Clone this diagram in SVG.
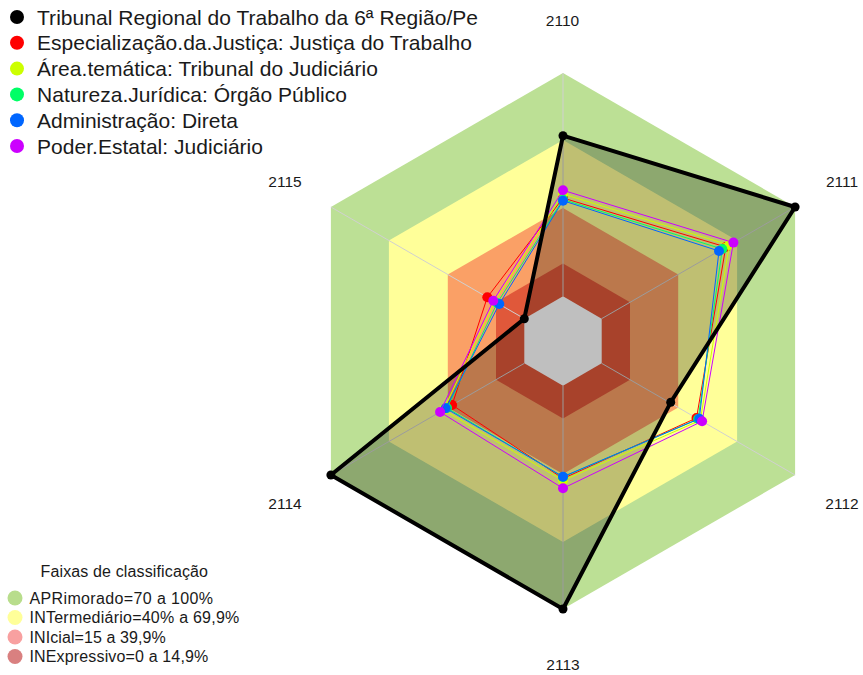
<svg xmlns="http://www.w3.org/2000/svg" width="863" height="675" viewBox="0 0 863 675">
<style>
text{font-family:"Liberation Sans",Arial,sans-serif;fill:#1a1a1a}
.ax{font-size:15.5px;text-anchor:middle}
.lg{font-size:21px}
.lb{font-size:16px}
.spoke{stroke:#d0d0d0;stroke-width:1}
.ser{fill:none;stroke-width:1}
</style>
<rect width="863" height="675" fill="#fff"/>
<g id="bands">
<polygon fill="#bce095" points="563,73 795.1,207 795.1,475 563,609 330.9,475 330.9,207"/>
<polygon fill="#ffff99" points="563,140 737.1,240.5 737.1,441.5 563,542 388.9,441.5 388.9,240.5"/>
<polygon fill="#faa066" points="563,208 678.2,274.5 678.2,407.5 563,474 447.8,407.5 447.8,274.5"/>
<polygon fill="#e0583a" points="563,263.6 630,302.3 630,379.7 563,418.4 496,379.7 496,302.3"/>
<polygon fill="#ffffff" points="563,296.3 601.7,318.65 601.7,363.35 563,385.7 524.3,363.35 524.3,318.65"/>
</g>
<g id="spokes">
<line class="spoke" x1="563" y1="296.3" x2="563" y2="73"/>
<line class="spoke" x1="601.7" y1="318.65" x2="795.1" y2="207"/>
<line class="spoke" x1="601.7" y1="363.35" x2="795.1" y2="475"/>
<line class="spoke" x1="563" y1="385.7" x2="563" y2="609"/>
<line class="spoke" x1="524.3" y1="363.35" x2="330.9" y2="475"/>
<line class="spoke" x1="524.3" y1="318.65" x2="330.9" y2="207"/>
</g>
<g id="axis-labels">
<text class="ax" x="562.5" y="25.5">2110</text>
<text class="ax" x="842" y="187">2111</text>
<text class="ax" x="842" y="509">2112</text>
<text class="ax" x="563" y="670">2113</text>
<text class="ax" x="285" y="509">2114</text>
<text class="ax" x="285" y="187">2115</text>
</g>
<g id="series-fill">
<polygon fill="#000" fill-opacity="0.25" points="563,135.7 795.1,207 670.7,402.3 563,609 330.9,475 524.3,318.7"/>
</g>
<g id="series">
<g id="s-red">
<polygon class="ser" stroke="#ff0000" points="563,198 725.8,247 696.5,418 563,478.5 452.1,405 487.3,297.3"/>
<g fill="#ff0000"><circle cx="563" cy="198" r="5"/><circle cx="725.8" cy="247" r="5"/><circle cx="696.5" cy="418" r="5"/><circle cx="563" cy="478.5" r="5"/><circle cx="452.1" cy="405" r="5"/><circle cx="487.3" cy="297.3" r="5"/></g>
</g>
<g id="s-yellow">
<polygon class="ser" stroke="#ccff00" points="563,194 729.3,245 700.3,420.3 563,480.5 443.5,410 494.6,301.5"/>
<g fill="#ccff00"><circle cx="563" cy="194" r="5"/><circle cx="729.3" cy="245" r="5"/><circle cx="700.3" cy="420.3" r="5"/><circle cx="563" cy="480.5" r="5"/><circle cx="443.5" cy="410" r="5"/><circle cx="494.6" cy="301.5" r="5"/></g>
</g>
<g id="s-green">
<polygon class="ser" stroke="#00ff66" points="563,199.5 722.3,249 698.1,419 563,477 447,408 497.2,303"/>
<g fill="#00ff66"><circle cx="563" cy="199.5" r="5"/><circle cx="722.3" cy="249" r="5"/><circle cx="698.1" cy="419" r="5"/><circle cx="563" cy="477" r="5"/><circle cx="447" cy="408" r="5"/><circle cx="497.2" cy="303" r="5"/></g>
</g>
<g id="s-blue">
<polygon class="ser" stroke="#0066ff" points="563,200.7 719,251 699.3,418.7 563,476.7 445.7,408.3 499.3,304"/>
<g fill="#0066ff"><circle cx="563" cy="200.7" r="5"/><circle cx="719" cy="251" r="5"/><circle cx="699.3" cy="418.7" r="5"/><circle cx="563" cy="476.7" r="5"/><circle cx="445.7" cy="408.3" r="5"/><circle cx="499.3" cy="304" r="5"/></g>
</g>
<g id="s-purple">
<polygon class="ser" stroke="#cc00ff" points="563,190.3 733.4,242.6 702.1,421.3 563,488.3 440.1,412 493.3,300.7"/>
<g fill="#cc00ff"><circle cx="563" cy="190.3" r="5"/><circle cx="733.4" cy="242.6" r="5"/><circle cx="702.1" cy="421.3" r="5"/><circle cx="563" cy="488.3" r="5"/><circle cx="440.1" cy="412" r="5"/><circle cx="493.3" cy="300.7" r="5"/></g>
</g>
<g id="s-black">
<polygon fill="none" stroke="#000" stroke-width="4" stroke-linejoin="round" points="563,135.7 795.1,207 670.7,402.3 563,609 330.9,475 524.3,318.7"/>
<g fill="#000"><circle cx="563" cy="135.7" r="4.5"/><circle cx="795.1" cy="207" r="4.5"/><circle cx="670.7" cy="402.3" r="4.5"/><circle cx="563" cy="609" r="4.5"/><circle cx="330.9" cy="475" r="4.5"/><circle cx="524.3" cy="318.7" r="4.5"/></g>
</g>
</g>
<g id="legend-series">
<circle cx="17" cy="17" r="7" fill="#000"/><text class="lg" x="37" y="24.5" textLength="441">Tribunal Regional do Trabalho da 6ª Região/Pe</text>
<circle cx="17" cy="42.8" r="7" fill="#ff0000"/><text class="lg" x="37" y="50.3" textLength="435">Especialização.da.Justiça: Justiça do Trabalho</text>
<circle cx="17" cy="68.6" r="7" fill="#ccff00"/><text class="lg" x="37" y="76.1" textLength="341">Área.temática: Tribunal do Judiciário</text>
<circle cx="17" cy="94.4" r="7" fill="#00ff66"/><text class="lg" x="37" y="101.9" textLength="310">Natureza.Jurídica: Órgão Público</text>
<circle cx="17" cy="120.2" r="7" fill="#0066ff"/><text class="lg" x="37" y="127.7" textLength="201">Administração: Direta</text>
<circle cx="17" cy="146" r="7" fill="#cc00ff"/><text class="lg" x="37" y="153.5" textLength="226">Poder.Estatal: Judiciário</text>
</g>
<g id="legend-bands">
<text class="lb" x="40.5" y="577" textLength="167.5">Faixas de classificação</text>
<circle cx="15" cy="598" r="7.5" fill="#b8dd8c"/><text class="lb" x="29.5" y="603.5" textLength="183.5">APRimorado=70 a 100%</text>
<circle cx="15" cy="617.5" r="7.5" fill="#ffff99"/><text class="lb" x="29.5" y="623" textLength="209.8">INTermediário=40% a 69,9%</text>
<circle cx="15" cy="637" r="7.5" fill="#f8a0a0"/><text class="lb" x="29.5" y="642.5" textLength="136.2">INIcial=15 a 39,9%</text>
<circle cx="15" cy="656.5" r="7.5" fill="#d98080"/><text class="lb" x="29.5" y="662" textLength="178.8">INExpressivo=0 a 14,9%</text>
</g>
</svg>
